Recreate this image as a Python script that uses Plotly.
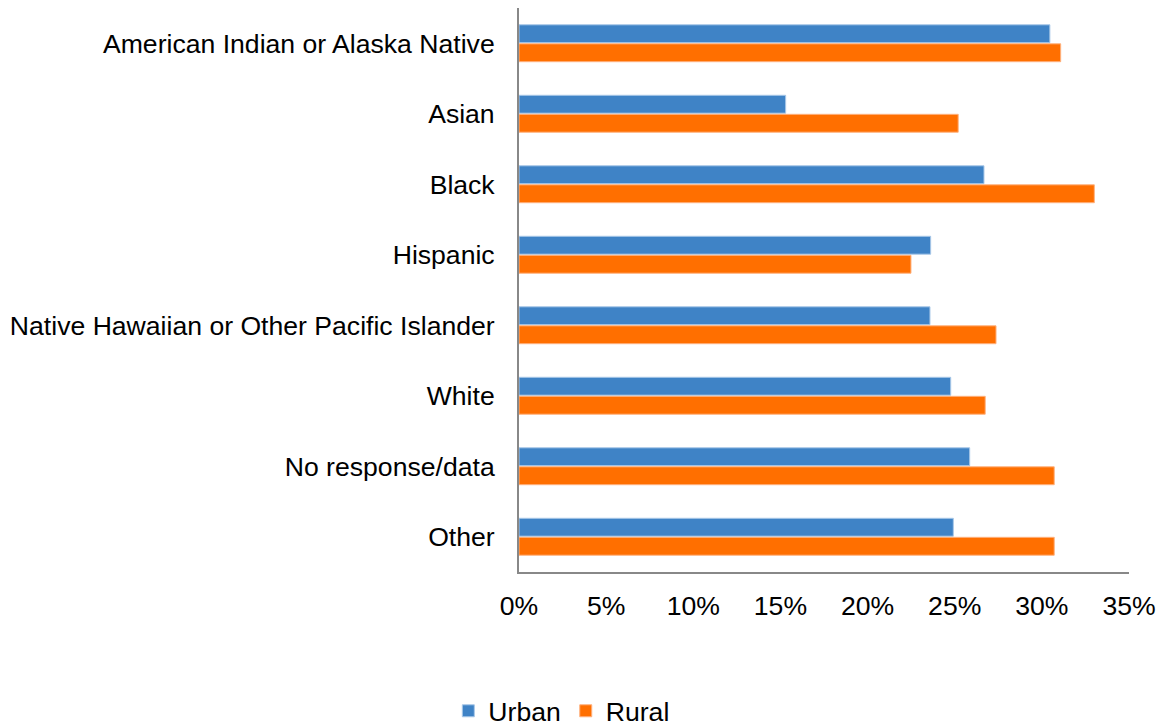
import plotly.graph_objects as go

categories = [
    "American Indian or Alaska Native",
    "Asian",
    "Black",
    "Hispanic",
    "Native Hawaiian or Other Pacific Islander",
    "White",
    "No response/data",
    "Other",
]
urban = [30.46, 15.30, 26.68, 23.62, 23.58, 24.77, 25.86, 24.92]
rural = [31.08, 25.20, 33.01, 22.49, 27.37, 26.75, 30.71, 30.71]
x_ticks = [0, 5, 10, 15, 20, 25, 30, 35]
x_tick_labels = ["0%", "5%", "10%", "15%", "20%", "25%", "30%", "35%"]

FONT = "Liberation Sans, Arial, sans-serif"

fig = go.Figure()
fig.add_trace(go.Bar(
    y=categories, x=urban, name="Urban", orientation="h",
    marker=dict(color="#3F83C6", line=dict(color="#A9C8E8", width=1)),
))
fig.add_trace(go.Bar(
    y=categories, x=rural, name="Rural", orientation="h",
    marker=dict(color="#FF6F00", line=dict(color="#FFB27F", width=1)),
))

fig.update_layout(
    width=1167, height=727,
    margin=dict(l=519, r=38, t=8, b=155),
    paper_bgcolor="white", plot_bgcolor="white",
    barmode="group", bargap=0.46, bargroupgap=0.06,
    font=dict(family=FONT, size=26.6, color="#000000"),
    showlegend=True,
    legend=dict(
        orientation="h", xref="container", yref="container",
        x=0.481, y=0.022, xanchor="center", yanchor="middle",
        font=dict(size=26.6), itemwidth=30, traceorder="normal",
    ),
)
fig.update_xaxes(
    range=[0, 35], tickvals=x_ticks, ticktext=x_tick_labels,
    showgrid=False, zeroline=False, showline=True, linecolor="#888888",
    linewidth=2, ticks="", ticklabelstandoff=9, automargin=False,
)
fig.update_yaxes(
    autorange="reversed", showgrid=False, zeroline=False, showline=True,
    linecolor="#888888", linewidth=2, ticks="", ticklabelstandoff=17,
    automargin=False,
)

fig.write_html("out.html")
